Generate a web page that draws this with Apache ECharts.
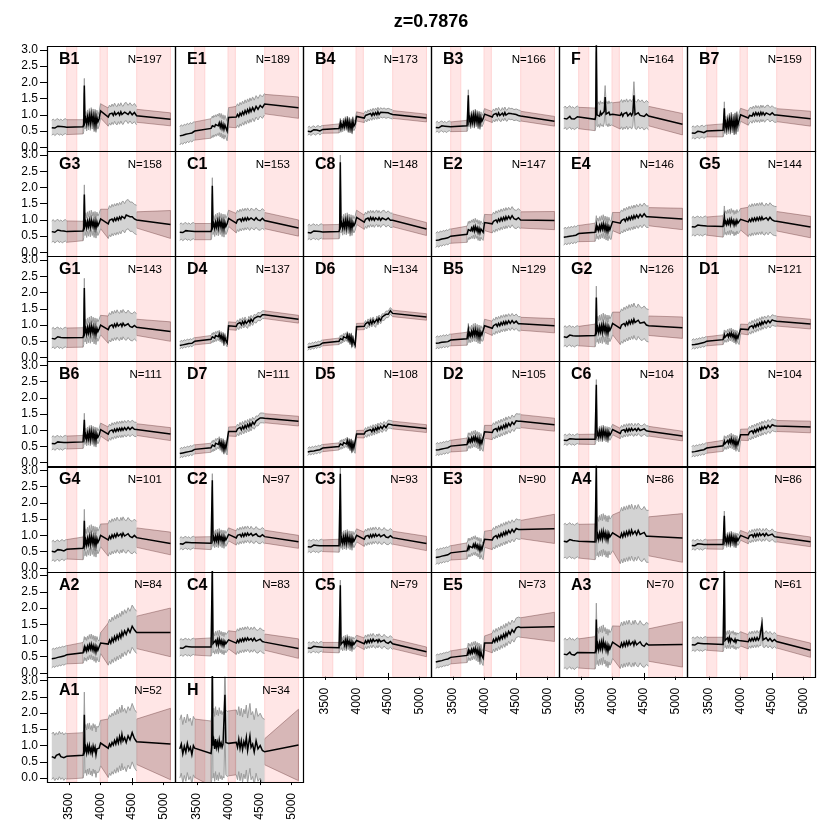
<!DOCTYPE html>
<html><head><meta charset="utf-8">
<script src="https://cdn.jsdelivr.net/npm/echarts@6/dist/echarts.min.js"></script>
<style>html,body{margin:0;padding:0;background:#fff}#c{width:830px;height:830px}</style>
</head><body><div id="c"></div>
<script>
// ---------- data ----------
const titleText = 'z=0.7876';
const wave = [3228,3252,3276,3300,3324,3348,3372,3396,3420,3444,3465,
  3725,3735,3745,3755,3768,3782,3796,3810,3825,3840,3855,3870,3885,3900,3915,3930,3945,3960,3980,4003,
  4125,4145,4165,4185,4205,4225,4245,4265,4285,4305,4325,4342,4360,4385,4410,4440,4470,4505,4540,4575,
  5113];
const observedRuns = [[0,10],[11,30],[31,50]];
const pinkBands = [[3465,3625],[3995,4110],[4577,5113]];
const xTicks = [3500,4000,4500,5000];
const yTicks = [0,0.5,1,1.5,2,2.5,3];
const names = ['B1','E1','B4','B3','F','B7','G3','C1','C8','E2','E4','G5','G1','D4','D6','B5','G2','D1','B6','D7','D5','D2','C6','D3','G4','C2','C3','E3','A4','B2','A2','C4','C5','E5','A3','C7','A1','H'];
const counts = [197,189,173,166,164,159,158,153,148,147,146,144,143,137,134,129,126,121,111,111,108,105,104,104,101,97,93,90,86,86,84,83,79,73,70,61,52,34];

const med_B1 = [0.60,0.64,0.59,0.63,0.65,0.60,0.64,0.59,0.63,0.65,0.62,
 0.63,0.70,1.90,0.78,0.88,0.72,0.93,0.76,0.97,0.74,1.00,0.78,0.96,0.70,0.95,0.68,0.92,0.78,0.88,1.12,
 0.93,1.02,0.96,1.05,0.98,1.08,1.00,0.97,1.07,0.99,1.09,1.01,0.98,1.08,1.10,1.01,1.09,1.00,1.07,0.97, 0.86];
const sd_B1 = [0.23,0.22,0.28,0.2,0.2];
const med_E1 = [0.35,0.41,0.37,0.43,0.40,0.46,0.42,0.48,0.44,0.50,0.50,
 0.58,0.62,0.66,0.60,0.68,0.63,0.70,0.64,0.72,0.66,0.75,0.62,0.74,0.58,0.70,0.55,0.68,0.60,0.50,0.92,
 0.93,1.01,0.94,1.05,0.98,1.09,1.01,1.13,1.04,1.16,1.07,1.19,1.10,1.22,1.12,1.26,1.17,1.29,1.22,1.33, 1.22];
const sd_E1 = [0.28,0.3,0.33,0.3,0.33];
const med_B4 = [0.49,0.53,0.48,0.52,0.54,0.49,0.53,0.55,0.50,0.54,0.55,
 0.58,0.62,0.75,0.60,0.70,0.62,0.76,0.64,0.80,0.66,0.82,0.60,0.78,0.58,0.74,0.56,0.80,0.65,0.72,0.95,
 0.90,0.98,0.92,1.01,0.95,1.04,0.97,1.06,0.99,1.07,1.00,1.09,1.01,1.08,1.04,1.07,1.03,1.06,1.03,1.01, 0.90];
const sd_B4 = [0.12,0.14,0.14,0.12,0.12];
const med_B3 = [0.61,0.65,0.60,0.64,0.66,0.61,0.65,0.60,0.64,0.66,0.63,
 0.66,0.72,1.60,0.80,0.90,0.74,0.95,0.78,0.98,0.76,1.00,0.80,0.96,0.74,0.94,0.72,0.92,0.80,0.88,1.02,
 0.93,1.01,0.95,1.04,0.97,1.06,0.98,0.96,1.05,0.98,1.07,0.99,0.97,1.05,1.02,1.03,0.99,1.01,0.98,0.96, 0.80];
const sd_B3 = [0.15,0.17,0.17,0.15,0.15];
const med_F = [0.89,0.94,0.87,0.92,0.95,0.88,0.92,0.87,0.91,0.94,0.90,
 0.86,0.95,3.30,1.00,0.98,1.05,0.96,1.08,1.00,1.04,0.98,1.10,1.55,1.02,1.06,0.98,1.08,1.00,1.04,1.02,
 0.98,1.05,0.96,1.04,0.98,1.07,0.97,1.03,1.05,0.98,1.07,1.60,1.00,0.97,1.06,0.98,1.04,0.95,1.02,0.96, 0.71];
const sd_F = [0.33,0.35,0.42,0.3,0.33];
const med_B7 = [0.44,0.48,0.43,0.47,0.49,0.44,0.48,0.50,0.45,0.49,0.50,
 0.52,0.58,1.20,0.62,0.75,0.58,0.80,0.62,0.85,0.60,0.88,0.64,0.82,0.58,0.86,0.60,0.90,0.68,0.84,1.00,
 0.90,0.98,1.02,0.96,1.05,0.98,1.07,0.99,1.06,0.98,1.08,1.00,1.07,0.99,1.06,1.08,1.00,1.06,0.99,0.99, 0.88];
const sd_B7 = [0.18,0.2,0.22,0.2,0.23];
const med_G3 = [0.64,0.68,0.62,0.66,0.69,0.63,0.67,0.62,0.66,0.68,0.64,
 0.66,0.75,1.78,0.82,0.92,0.76,0.95,0.80,0.98,0.78,1.00,0.82,0.95,0.76,0.96,0.74,0.94,0.82,0.90,1.03,
 0.88,0.99,0.93,1.03,0.96,1.05,0.98,1.07,1.00,1.09,1.02,1.11,1.13,1.05,1.15,1.18,1.10,1.10,1.03,1.00, 0.86];
const sd_G3 = [0.33,0.3,0.45,0.25,0.43];
const med_C1 = [0.62,0.66,0.61,0.65,0.67,0.62,0.66,0.61,0.65,0.67,0.64,
 0.64,0.72,2.05,0.80,0.88,0.74,0.92,0.78,0.96,0.76,0.98,0.80,0.95,0.74,0.93,0.72,0.92,0.80,0.88,1.05,
 0.90,1.00,0.94,1.03,0.96,1.05,0.98,1.06,0.99,1.07,1.00,0.98,1.06,1.03,0.99,1.07,1.00,0.98,1.05,0.98, 0.75];
const sd_C1 = [0.25,0.25,0.3,0.25,0.25];
const med_C8 = [0.61,0.65,0.60,0.64,0.66,0.61,0.65,0.60,0.64,0.66,0.63,
 0.64,0.72,2.78,0.82,0.90,0.75,0.95,0.78,0.98,0.76,1.00,0.80,0.96,0.72,0.94,0.74,0.92,0.82,0.90,1.08,
 0.93,1.02,0.96,1.06,0.99,1.08,1.00,1.07,0.99,1.06,1.08,1.00,1.07,0.99,1.06,1.08,1.00,1.06,0.99,0.99, 0.72];
const sd_C8 = [0.22,0.22,0.22,0.2,0.2];
const med_E2 = [0.37,0.42,0.38,0.44,0.41,0.46,0.43,0.48,0.45,0.50,0.50,
 0.56,0.62,0.70,0.64,0.72,0.66,0.75,0.68,0.78,0.66,0.80,0.68,0.76,0.62,0.74,0.60,0.72,0.66,0.62,0.92,
 0.88,0.96,0.90,1.00,0.93,1.03,0.96,1.06,0.98,1.08,1.00,1.10,1.02,1.11,1.03,1.13,1.04,1.01,1.07,1.00, 0.98];
const sd_E2 = [0.22,0.25,0.28,0.25,0.28];
const med_E4 = [0.47,0.53,0.48,0.54,0.50,0.56,0.51,0.57,0.53,0.58,0.58,
 0.62,0.68,0.85,0.70,0.78,0.68,0.82,0.70,0.85,0.72,0.88,0.70,0.84,0.66,0.82,0.64,0.80,0.70,0.68,0.95,
 0.90,0.98,0.93,1.03,0.96,1.06,0.99,1.09,1.01,1.11,1.03,1.13,1.05,1.15,1.07,1.17,1.09,1.19,1.10,1.10, 1.03];
const sd_E4 = [0.25,0.28,0.33,0.28,0.33];
const med_G5 = [0.79,0.83,0.78,0.82,0.84,0.79,0.83,0.78,0.82,0.84,0.81,
 0.80,0.85,1.10,0.88,0.95,0.86,0.98,0.88,1.00,0.86,1.02,0.90,0.98,0.84,0.96,0.86,0.99,0.90,0.94,1.02,
 0.94,1.02,0.95,1.05,0.97,1.06,0.98,1.07,0.99,1.08,1.00,1.09,1.01,0.98,1.07,0.99,1.08,1.00,0.97,0.96, 0.78];
const sd_G5 = [0.28,0.33,0.45,0.3,0.33];
const med_G1 = [0.59,0.63,0.57,0.62,0.64,0.58,0.62,0.57,0.61,0.63,0.61,
 0.62,0.70,2.14,0.78,0.88,0.72,0.92,0.76,0.95,0.74,0.98,0.78,0.94,0.72,0.92,0.70,0.90,0.80,0.88,1.00,
 0.86,0.96,0.90,1.01,0.93,1.03,0.95,1.05,0.97,0.94,1.04,0.96,1.06,0.98,0.95,1.04,0.96,0.93,0.99,0.93, 0.80];
const sd_G1 = [0.3,0.3,0.42,0.25,0.3];
const med_D4 = [0.37,0.42,0.39,0.44,0.41,0.46,0.43,0.47,0.44,0.49,0.50,
 0.56,0.60,0.64,0.58,0.66,0.60,0.68,0.62,0.70,0.64,0.72,0.60,0.68,0.56,0.66,0.48,0.62,0.52,0.45,0.98,
 0.96,1.04,0.98,1.08,1.01,1.11,1.03,1.13,1.05,1.02,1.15,1.08,1.18,1.11,1.21,1.18,1.27,1.25,1.32,1.32, 1.18];
const sd_D4 = [0.11,0.12,0.12,0.12,0.12];
const med_D6 = [0.31,0.36,0.33,0.38,0.35,0.40,0.37,0.42,0.39,0.44,0.45,
 0.50,0.54,0.58,0.52,0.60,0.55,0.64,0.58,0.66,0.60,0.70,0.56,0.66,0.50,0.64,0.42,0.58,0.46,0.38,0.95,
 0.96,1.04,0.98,1.09,1.02,1.13,1.04,1.15,1.07,1.03,1.18,1.10,1.21,1.14,1.25,1.24,1.33,1.33,1.44,1.36, 1.25];
const sd_D6 = [0.09,0.1,0.1,0.1,0.1];
const med_B5 = [0.44,0.49,0.45,0.50,0.47,0.52,0.48,0.53,0.49,0.54,0.54,
 0.58,0.64,0.85,0.66,0.75,0.66,0.80,0.68,0.84,0.70,0.86,0.68,0.82,0.64,0.80,0.62,0.78,0.70,0.72,0.98,
 0.90,0.98,0.93,1.03,0.96,1.05,0.98,1.08,1.01,1.10,1.02,1.11,1.04,1.13,1.05,1.14,1.06,1.12,1.04,1.04, 0.98];
const sd_B5 = [0.18,0.2,0.22,0.2,0.22];
const med_G2 = [0.64,0.68,0.62,0.67,0.69,0.63,0.67,0.62,0.66,0.68,0.66,
 0.68,0.75,1.85,0.82,0.92,0.78,0.96,0.80,0.98,0.78,1.02,0.82,0.98,0.76,0.96,0.74,0.95,0.84,0.92,1.05,
 0.90,1.00,0.94,1.05,0.98,1.09,1.01,1.13,1.04,1.15,1.06,1.18,1.08,1.04,1.15,1.06,1.02,1.09,1.00,0.98, 0.92];
const sd_G2 = [0.3,0.35,0.5,0.3,0.33];
const med_D1 = [0.39,0.44,0.40,0.45,0.42,0.47,0.44,0.49,0.46,0.50,0.50,
 0.55,0.60,0.70,0.62,0.68,0.62,0.72,0.64,0.74,0.66,0.76,0.64,0.72,0.60,0.70,0.56,0.68,0.60,0.55,0.88,
 0.86,0.94,0.88,0.98,0.91,1.01,0.94,1.04,0.97,1.07,1.00,1.10,1.03,1.12,1.05,1.14,1.07,1.16,1.13,1.12, 1.03];
const sd_D1 = [0.14,0.15,0.16,0.15,0.15];
const med_B6 = [0.59,0.63,0.58,0.62,0.64,0.59,0.63,0.58,0.62,0.64,0.62,
 0.64,0.70,1.32,0.76,0.86,0.72,0.90,0.74,0.94,0.72,0.96,0.76,0.92,0.70,0.90,0.68,0.88,0.78,0.85,1.02,
 0.88,0.97,0.91,1.01,0.94,1.03,0.96,1.05,0.98,1.06,0.99,1.07,1.00,1.08,1.01,1.09,1.02,1.09,1.03,1.02, 0.88];
const sd_B6 = [0.2,0.2,0.22,0.18,0.2];
const med_D7 = [0.28,0.33,0.30,0.35,0.32,0.37,0.34,0.39,0.36,0.40,0.41,
 0.46,0.50,0.54,0.48,0.56,0.50,0.60,0.54,0.62,0.56,0.66,0.52,0.62,0.46,0.60,0.40,0.55,0.44,0.38,0.96,
 0.96,1.04,0.98,1.09,1.01,1.12,1.04,1.15,1.07,1.18,1.10,1.21,1.13,1.25,1.18,1.29,1.28,1.38,1.38,1.37, 1.28];
const sd_D7 = [0.14,0.14,0.15,0.14,0.15];
const med_D5 = [0.33,0.38,0.35,0.39,0.36,0.41,0.38,0.43,0.40,0.44,0.45,
 0.50,0.54,0.58,0.52,0.60,0.54,0.62,0.56,0.64,0.58,0.68,0.54,0.64,0.48,0.62,0.42,0.58,0.46,0.40,0.88,
 0.88,0.96,0.90,0.99,0.93,1.02,0.95,1.05,0.97,1.07,1.00,1.10,1.03,1.12,1.05,1.15,1.08,1.19,1.18,1.16, 1.05];
const sd_D5 = [0.11,0.11,0.12,0.12,0.12];
const med_D2 = [0.39,0.44,0.40,0.45,0.42,0.47,0.44,0.49,0.46,0.50,0.51,
 0.56,0.62,0.72,0.64,0.72,0.64,0.76,0.66,0.78,0.68,0.80,0.66,0.76,0.62,0.74,0.56,0.70,0.60,0.55,0.95,
 0.93,1.01,0.95,1.05,0.98,1.09,1.01,1.12,1.04,1.15,1.07,1.19,1.10,1.21,1.13,1.25,1.18,1.29,1.28,1.28, 1.17];
const sd_D2 = [0.18,0.2,0.22,0.2,0.2];
const med_C6 = [0.69,0.73,0.68,0.72,0.74,0.69,0.73,0.68,0.72,0.74,0.72,
 0.72,0.78,2.40,0.84,0.92,0.80,0.96,0.82,0.98,0.80,1.00,0.84,0.96,0.80,0.95,0.78,0.94,0.85,0.92,1.02,
 0.90,0.99,0.93,1.02,0.95,1.04,0.96,1.05,0.98,1.06,0.99,0.97,1.05,0.98,1.06,0.99,0.97,1.04,0.98,0.97, 0.82];
const sd_C6 = [0.15,0.16,0.16,0.15,0.15];
const med_D3 = [0.33,0.38,0.34,0.39,0.36,0.41,0.38,0.43,0.40,0.44,0.45,
 0.52,0.56,0.66,0.58,0.64,0.58,0.68,0.60,0.70,0.62,0.74,0.60,0.70,0.56,0.68,0.52,0.66,0.56,0.50,0.86,
 0.86,0.94,0.88,0.98,0.91,1.01,0.94,1.04,0.97,1.07,1.00,1.10,1.03,1.12,1.05,1.15,1.08,1.17,1.14,1.13, 1.10];
const sd_D3 = [0.16,0.17,0.18,0.17,0.18];
const med_G4 = [0.51,0.55,0.49,0.54,0.56,0.50,0.55,0.57,0.52,0.56,0.57,
 0.60,0.68,1.45,0.72,0.85,0.70,0.90,0.74,0.95,0.72,0.98,0.76,0.94,0.70,0.92,0.68,0.90,0.78,0.86,1.00,
 0.86,0.97,0.90,1.01,0.93,1.03,0.95,1.06,0.98,0.94,1.05,0.96,1.07,0.98,0.95,1.05,0.97,0.93,1.00,0.93, 0.75];
const sd_G4 = [0.3,0.35,0.5,0.3,0.35];
const med_C2 = [0.74,0.78,0.73,0.77,0.79,0.74,0.78,0.73,0.77,0.79,0.77,
 0.76,0.82,2.70,0.86,0.94,0.82,0.97,0.84,0.99,0.82,1.01,0.86,0.97,0.82,0.96,0.80,0.95,0.86,0.93,1.03,
 0.92,1.00,0.94,1.03,0.96,1.05,0.97,1.06,0.99,1.07,1.00,0.98,1.06,0.99,0.97,1.05,0.98,0.96,1.02,0.96, 0.80];
const sd_C2 = [0.18,0.2,0.22,0.2,0.2];
const med_C3 = [0.65,0.69,0.64,0.68,0.70,0.65,0.69,0.64,0.68,0.70,0.68,
 0.68,0.74,2.90,0.80,0.90,0.76,0.94,0.78,0.96,0.76,0.98,0.80,0.94,0.76,0.93,0.74,0.92,0.82,0.90,1.00,
 0.88,0.97,0.91,1.00,0.93,1.02,0.94,1.03,0.96,1.04,0.97,0.95,1.03,0.96,0.94,1.02,0.95,0.93,0.99,0.93, 0.75];
const sd_C3 = [0.18,0.2,0.22,0.2,0.22];
const med_E3 = [0.32,0.37,0.33,0.39,0.36,0.41,0.38,0.43,0.40,0.45,0.46,
 0.52,0.58,0.66,0.58,0.66,0.60,0.70,0.62,0.72,0.64,0.74,0.62,0.70,0.58,0.68,0.52,0.66,0.56,0.50,0.88,
 0.86,0.94,0.88,0.99,0.92,1.02,0.95,1.06,0.98,1.09,1.01,1.12,1.04,1.15,1.07,1.18,1.10,1.21,1.18,1.18, 1.20];
const sd_E3 = [0.22,0.25,0.3,0.28,0.45];
const med_A4 = [0.82,0.85,0.80,0.84,0.87,0.81,0.84,0.79,0.83,0.86,0.82,
 0.80,0.86,3.20,0.92,1.02,0.88,1.06,0.92,1.10,0.90,1.12,0.94,1.08,0.88,1.05,0.86,1.06,0.95,1.00,1.08,
 0.93,1.06,0.95,1.09,0.98,1.11,1.00,1.14,1.02,1.16,1.04,1.00,1.13,1.02,1.15,1.03,0.99,1.09,0.97,0.97, 0.92];
const sd_A4 = [0.52,0.55,0.8,0.6,0.75];
const med_B2 = [0.69,0.73,0.68,0.72,0.74,0.69,0.73,0.68,0.72,0.74,0.72,
 0.72,0.78,1.60,0.82,0.90,0.78,0.94,0.80,0.96,0.78,0.98,0.82,0.94,0.78,0.93,0.76,0.92,0.84,0.90,1.00,
 0.90,0.99,0.93,1.02,0.95,1.04,0.96,1.05,0.98,1.06,0.99,0.97,1.05,0.98,1.06,0.99,0.97,1.04,0.96,0.95, 0.80];
const sd_B2 = [0.14,0.15,0.16,0.15,0.15];
const med_A2 = [0.44,0.48,0.45,0.50,0.48,0.52,0.50,0.54,0.52,0.55,0.56,
 0.62,0.68,0.80,0.70,0.78,0.68,0.82,0.72,0.86,0.74,0.88,0.72,0.84,0.68,0.82,0.64,0.80,0.70,0.66,0.92,
 0.89,1.01,0.92,1.07,0.97,1.12,1.01,1.16,1.05,1.20,1.09,1.26,1.15,1.30,1.19,1.36,1.25,1.44,1.33,1.25, 1.25];
const sd_A2 = [0.28,0.32,0.65,0.5,0.75];
const med_C4 = [0.77,0.81,0.76,0.80,0.82,0.77,0.81,0.76,0.80,0.82,0.80,
 0.80,0.86,3.30,0.90,0.96,0.86,1.00,0.88,1.02,0.86,1.04,0.90,1.00,0.86,0.98,0.84,0.97,0.90,0.95,1.02,
 0.92,1.01,0.94,1.04,0.97,1.06,0.98,1.07,1.00,1.08,1.01,0.98,1.06,0.99,1.07,0.98,0.96,1.04,0.97,0.95, 0.75];
const sd_C4 = [0.25,0.28,0.35,0.25,0.3];
const med_C5 = [0.77,0.81,0.76,0.80,0.82,0.77,0.81,0.76,0.80,0.82,0.79,
 0.78,0.84,2.70,0.88,0.94,0.84,0.98,0.86,1.00,0.84,1.02,0.88,0.98,0.84,0.96,0.82,0.95,0.88,0.93,1.00,
 0.90,0.99,0.92,1.01,0.94,1.03,0.95,1.04,0.97,0.94,1.02,0.95,1.03,0.96,0.93,1.01,0.94,0.91,0.97,0.90, 0.65];
const sd_C5 = [0.15,0.16,0.18,0.15,0.15];
const med_E5 = [0.34,0.38,0.36,0.40,0.38,0.42,0.41,0.44,0.43,0.46,0.48,
 0.54,0.60,0.70,0.60,0.68,0.60,0.72,0.62,0.74,0.64,0.76,0.60,0.72,0.56,0.70,0.48,0.66,0.52,0.45,0.92,
 0.92,1.03,0.95,1.07,0.98,1.11,1.02,1.15,1.06,1.19,1.09,1.23,1.14,1.28,1.19,1.33,1.25,1.39,1.42,1.40, 1.42];
const sd_E5 = [0.2,0.22,0.3,0.3,0.45];
const med_A3 = [0.58,0.62,0.56,0.60,0.64,0.57,0.61,0.55,0.60,0.63,0.60,
 0.62,0.70,1.65,0.76,0.88,0.72,0.92,0.76,0.95,0.74,0.98,0.78,0.90,0.70,0.86,0.66,0.84,0.74,0.80,0.95,
 0.79,0.92,0.81,0.94,0.83,0.96,0.85,0.98,0.87,0.83,0.96,0.85,0.98,0.87,0.84,0.96,0.86,0.82,0.91,0.86, 0.88];
const sd_A3 = [0.45,0.5,0.65,0.5,0.7];
const med_C7 = [0.87,0.91,0.86,0.90,0.92,0.87,0.91,0.86,0.90,0.92,0.90,
 0.88,0.94,3.30,1.00,1.06,0.96,1.08,0.98,1.10,0.96,1.06,1.00,1.08,0.96,1.04,0.94,1.02,0.98,1.00,1.05,
 0.96,1.05,0.98,1.07,0.99,1.08,1.00,1.09,1.01,1.08,1.06,1.50,1.02,1.00,1.08,0.99,1.06,0.97,1.03,0.97, 0.70];
const sd_C7 = [0.2,0.22,0.22,0.2,0.22];
const med_A1 = [0.66,0.72,0.62,0.70,0.64,0.74,0.66,0.71,0.63,0.69,0.67,
 0.70,0.80,1.95,0.85,0.95,0.78,0.98,0.82,1.00,0.80,0.92,0.76,0.98,0.84,0.95,0.72,0.90,0.86,0.92,1.08,
 0.92,1.05,0.98,1.10,1.02,1.16,1.05,1.22,1.08,1.28,1.12,1.35,1.15,1.25,1.10,1.30,1.18,1.40,1.22,1.12, 1.05];
const sd_A1 = [0.7,0.7,0.9,0.7,1.1];
const med_H = [0.90,1.05,0.75,0.98,0.80,1.07,0.85,0.95,0.72,1.00,0.92,
 0.76,0.95,3.40,1.00,1.15,0.90,1.20,0.95,1.10,0.92,1.17,0.98,1.08,0.95,1.05,1.00,2.57,1.10,1.05,1.07,
 1.10,0.95,1.20,0.92,1.15,0.88,1.12,0.98,1.25,0.85,1.10,1.30,0.95,1.05,0.80,1.15,0.90,1.00,0.85,0.81, 1.02];
const sd_H = [0.9,1.0,1.0,0.4,1.1];

const medians = [med_B1,med_E1,med_B4,med_B3,med_F,med_B7,med_G3,med_C1,med_C8,med_E2,med_E4,med_G5,
  med_G1,med_D4,med_D6,med_B5,med_G2,med_D1,med_B6,med_D7,med_D5,med_D2,med_C6,med_D3,
  med_G4,med_C2,med_C3,med_E3,med_A4,med_B2,med_A2,med_C4,med_C5,med_E5,med_A3,med_C7,med_A1,med_H];
const sds = [sd_B1,sd_E1,sd_B4,sd_B3,sd_F,sd_B7,sd_G3,sd_C1,sd_C8,sd_E2,sd_E4,sd_G5,
  sd_G1,sd_D4,sd_D6,sd_B5,sd_G2,sd_D1,sd_B6,sd_D7,sd_D5,sd_D2,sd_C6,sd_D3,
  sd_G4,sd_C2,sd_C3,sd_E3,sd_A4,sd_B2,sd_A2,sd_C4,sd_C5,sd_E5,sd_A3,sd_C7,sd_A1,sd_H];

// ---------- layout / style ----------
const FONT = '"Liberation Sans", Arial, Helvetica, sans-serif';
const COLS = 6, L0 = 47, T0 = 46, PW = 128, PH = 105.14;
const X_MIN = 3152, X_MAX = 5185, Y_MIN = -0.12, Y_MAX = 3.12;
const GRAY_FILL = '#d3d3d3', GRAY_EDGE = '#9c9c9c';
const MASK_FILL = 'rgba(95,45,45,0.25)', MASK_EDGE = 'rgba(95,45,45,0.38)';
const PINK_FILL = '#ffe6e6', PINK_EDGE = '#ffd4d4';

function sdFor(s, k) {
  if (k <= observedRuns[0][1]) return s[0];
  if (k <= observedRuns[1][1]) return s[1];
  if (k <= observedRuns[2][1]) return s[2];
  return s[4];
}
function sdGapStart(s, k) {
  if (k === observedRuns[2][1]) return s[3];
  return sdFor(s, k);
}

function bandRender(params, api) {
  if (params.dataIndexInside !== 0) return null;
  const n = params.dataInsideLength;
  const W = [], M = [], S = [], S2 = [];
  for (let k = 0; k < n; k++) {
    W.push(api.value(0, k)); M.push(api.value(1, k));
    S.push(api.value(2, k)); S2.push(api.value(3, k));
  }
  const P = (w, v) => api.coord([w, v]);
  const children = [];
  observedRuns.forEach(run => {
    const a = run[1], b = a + 1;
    if (b >= n) return;
    const poly = [P(W[a], M[a] + S2[a]), P(W[b], M[b] + S[b]), P(W[b], M[b] - S[b]), P(W[a], M[a] - S2[a])];
    children.push({type: 'polygon', shape: {points: poly}, style: {fill: MASK_FILL, stroke: MASK_EDGE, lineWidth: 1}});
  });
  observedRuns.forEach(run => {
    const up = [], lo = [];
    for (let k = run[0]; k <= run[1]; k++) { up.push(P(W[k], M[k] + S[k])); lo.push(P(W[k], M[k] - S[k])); }
    const poly = up.concat(lo.slice().reverse());
    children.push({type: 'polygon', shape: {points: poly}, style: {fill: GRAY_FILL, stroke: null}});
    children.push({type: 'polyline', shape: {points: up}, style: {fill: null, stroke: GRAY_EDGE, lineWidth: 1}});
    children.push({type: 'polyline', shape: {points: lo}, style: {fill: null, stroke: GRAY_EDGE, lineWidth: 1}});
  });
  return {type: 'group', children};
}

function pinkRender(params, api) {
  const p0 = api.coord([api.value(0), Y_MAX]);
  const p1 = api.coord([api.value(1), Y_MIN]);
  return {type: 'rect', shape: {x: p0[0], y: p0[1], width: p1[0] - p0[0], height: p1[1] - p0[1]},
    style: {fill: PINK_FILL, stroke: PINK_EDGE, lineWidth: 1}};
}

const grid = [], xAxis = [], yAxis = [], series = [], graphic = [];
names.forEach((nm, i) => {
  const r = Math.floor(i / COLS), c = i % COLS;
  const left = L0 + c * PW, top = T0 + r * PH;
  const isBottom = i + COLS >= names.length;
  const isLeft = c === 0;
  grid.push({left, top, width: PW, height: PH, show: false, containLabel: false, outerBoundsMode: 'none'});
  xAxis.push({type: 'value', gridIndex: i, min: X_MIN, max: X_MAX,
    axisLine: {show: false}, splitLine: {show: false},
    axisTick: {show: isBottom, length: 7, inside: false, customValues: xTicks, lineStyle: {color: '#000', width: 1}},
    axisLabel: {show: isBottom, rotate: 90, margin: 11, fontSize: 12, color: '#000', fontFamily: FONT,
      customValues: xTicks, formatter: v => String(v)}});
  yAxis.push({type: 'value', gridIndex: i, min: Y_MIN, max: Y_MAX,
    axisLine: {show: false}, splitLine: {show: false},
    axisTick: {show: isLeft, length: 7, inside: false, customValues: yTicks, lineStyle: {color: '#000', width: 1}},
    axisLabel: {show: isLeft, margin: 9, fontSize: 12, color: '#000', fontFamily: FONT,
      customValues: yTicks, formatter: v => v.toFixed(1)}});
  const med = medians[i], sd = sds[i];
  series.push({type: 'custom', xAxisIndex: i, yAxisIndex: i, clip: true, silent: true, z: 1,
    renderItem: pinkRender, encode: {x: [0, 1]}, data: pinkBands.map(b => [b[0], b[1]])});
  series.push({type: 'custom', xAxisIndex: i, yAxisIndex: i, clip: true, silent: true, z: 2,
    renderItem: bandRender, encode: {x: 0, y: 1},
    data: wave.map((w, k) => [w, med[k], sdFor(sd, k), sdGapStart(sd, k)])});
  series.push({type: 'line', xAxisIndex: i, yAxisIndex: i, clip: true, silent: true, z: 3,
    showSymbol: false, symbol: 'none', smooth: false,
    lineStyle: {color: '#000', width: 1.5, join: 'miter'},
    data: wave.map((w, k) => [w, med[k]])});
  graphic.push({type: 'rect', z: 100, silent: true,
    shape: {x: Math.round(left) + 0.5, y: Math.round(top) + 0.5, width: PW, height: Math.round(PH)},
    style: {fill: null, stroke: '#000', lineWidth: 1.2}});
  graphic.push({type: 'text', z: 100, silent: true,
    style: {text: nm, x: left + 12, y: top + 13.5, font: 'bold 16px ' + FONT, fill: '#000',
      textAlign: 'left', textVerticalAlign: 'middle'}});
  graphic.push({type: 'text', z: 100, silent: true,
    style: {text: 'N=' + counts[i], x: left + PW - 13, y: top + 13.5, font: '11.5px ' + FONT, fill: '#000',
      textAlign: 'right', textVerticalAlign: 'middle'}});
});
graphic.push({type: 'text', z: 100, silent: true,
  style: {text: titleText, x: 431, y: 22, font: 'bold 18px ' + FONT, fill: '#000',
    textAlign: 'center', textVerticalAlign: 'middle'}});

const chart = echarts.init(document.getElementById('c'), null, {renderer: 'canvas'});
chart.setOption({animation: false, backgroundColor: '#fff', grid, xAxis, yAxis, series, graphic});
</script></body></html>
